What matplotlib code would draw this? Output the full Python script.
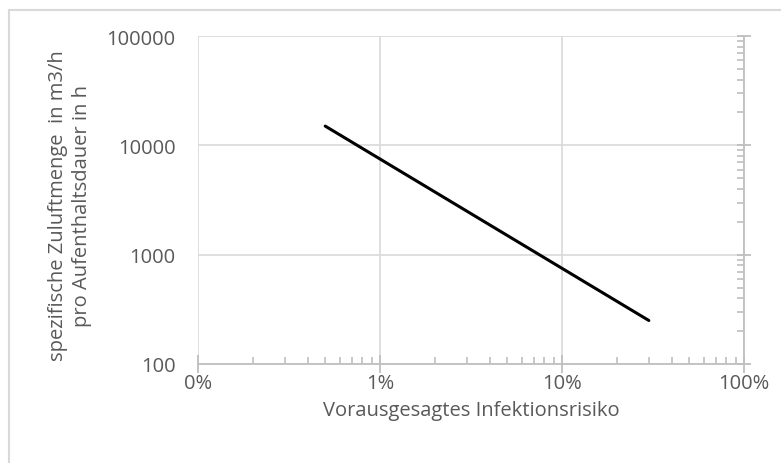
import matplotlib
matplotlib.use("Agg")
import matplotlib.pyplot as plt
from matplotlib.patches import Rectangle
from matplotlib.ticker import LogLocator, FixedLocator, NullFormatter

risk = [0.005, 0.01, 0.1, 0.3]
flow = [15000, 7500, 750, 250]
x_ticks = [0.001, 0.01, 0.1, 1.0]
x_labels = ["0%", "1%", "10%", "100%"]
y_ticks = [100, 1000, 10000, 100000]
y_labels = ["100", "1000", "10000", "100000"]

plt.rcParams['font.family'] = ['Open Sans', 'DejaVu Sans']
W, H = 781, 464
fig = plt.figure(figsize=(W/100, H/100), dpi=100)
fig.patch.set_facecolor('white')

# chart border (partially cropped)
fig.patches.append(Rectangle((9/W, -0.1), 1.2, 1 - 11/H + 0.1, transform=fig.transFigure,
                             fill=False, edgecolor='#d9d9d9', linewidth=1.5))

ax = fig.add_axes([198/W, 1 - 365/H, (744-198)/W, (365-37)/H])
ax.set_xscale('log')
ax.set_yscale('log')
ax.set_xlim(0.001, 1.0)
ax.set_ylim(100, 100000)

ax.plot(risk, flow, color='black', linewidth=2.2, solid_capstyle='round')

grey_txt = '#595959'
axis_col = '#bfbfbf'
grid_col = '#d9d9d9'
fs = 14.5

ax.xaxis.set_major_locator(FixedLocator(x_ticks))
ax.set_xticklabels(x_labels)
ax.xaxis.set_minor_locator(LogLocator(base=10, subs=range(2, 10)))
ax.xaxis.set_minor_formatter(NullFormatter())
ax.yaxis.set_major_locator(FixedLocator(y_ticks))
ax.set_yticklabels(y_labels)
ax.yaxis.set_minor_locator(LogLocator(base=10, subs=range(2, 10)))
ax.yaxis.set_minor_formatter(NullFormatter())

for s in ['left', 'top']:
    ax.spines[s].set_visible(False)
for s in ['bottom', 'right']:
    ax.spines[s].set_color(axis_col)
    ax.spines[s].set_linewidth(1.3)

ax.grid(True, which='major', color=grid_col, linewidth=1.2)
ax.set_axisbelow(True)

ax.tick_params(axis='x', which='major', direction='inout', length=13, width=1.3,
               color=axis_col, labelcolor=grey_txt, labelsize=fs, pad=0)
ax.tick_params(axis='x', which='minor', direction='in', length=5, width=1.2, color=axis_col)
ax.tick_params(axis='y', which='both', left=False, right=True, labelleft=True, labelright=False)
ax.tick_params(axis='y', which='major', direction='inout', length=10, width=1.3,
               color=axis_col, labelcolor=grey_txt, labelsize=fs, pad=11)
ax.tick_params(axis='y', which='minor', direction='in', length=5, width=1.2, color=axis_col)

ax.set_xlabel("Vorausgesagtes Infektionsrisiko", color=grey_txt, fontsize=fs, labelpad=5)
fig.text(70/W, 1 - 206/H, "spezifische Zuluftmenge  in m3/h\npro Aufenthaltsdauer in h",
         rotation=90, ha='center', va='center', color=grey_txt, fontsize=fs,
         linespacing=1.3, multialignment='center')

fig.savefig("out.png", dpi=100, facecolor='white')
